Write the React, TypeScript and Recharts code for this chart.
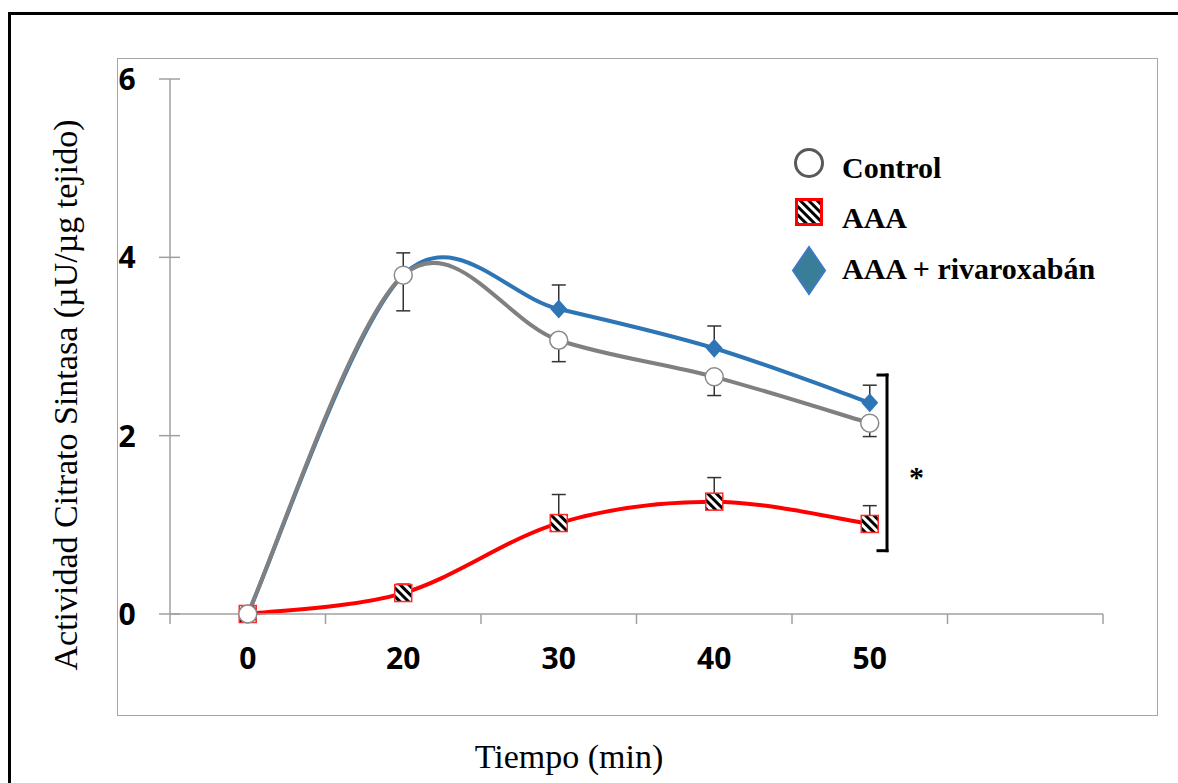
import React from 'react';
import {
  LineChart,
  Line,
  XAxis,
  YAxis,
  ErrorBar,
  Legend,
  ReferenceLine,
  ReferenceDot,
} from 'recharts';

// ---------- data ----------
const categories = ['0', '20', '30', '40', '50', ''];
const controlValues = [0, 3.8, 3.07, 2.66, 2.14, null];
const controlErrLow = [null, 0.4, 0.24, 0.21, 0.15, null];
const aaaValues = [0, 0.235, 1.02, 1.26, 1.01, null];
const aaaErrHigh = [null, 0.1, 0.32, 0.27, 0.205, null];
const rivaValues = [0, 3.8, 3.42, 2.98, 2.37, null];
const rivaErrHigh = [null, 0.25, 0.27, 0.25, 0.196, null];
const yTicks = [0, 2, 4, 6];
const seriesNames = ['Control', 'AAA', 'AAA + rivaroxabán'];
// significance bracket (x in category-slot units, 0..6 across the axis)
const bracketYRange = [0.71, 2.68];
const bracketXRange = [4.553, 4.611];
const starX = 4.8;
const starY = 1.59;

const data = categories.map((t, i) => ({
  t,
  slot: i,
  control: controlValues[i],
  controlErr: controlErrLow[i] == null ? null : [controlErrLow[i], 0],
  aaa: aaaValues[i],
  aaaErr: aaaErrHigh[i] == null ? null : [0, aaaErrHigh[i]],
  riva: rivaValues[i],
  rivaErr: rivaErrHigh[i] == null ? null : [0, rivaErrHigh[i]],
}));

// ---------- styles ----------
const AXIS = '#a0a0a0';
const GRAY = '#808080';
const RED = '#ff0000';
const BLUE = '#2e75b6';
const SANS = '"Open Sans", "Liberation Sans", sans-serif';
const SERIF = '"Liberation Serif", "Times New Roman", serif';

// Excel-like smoothed line (Catmull-Rom style bezier)
const excelSmooth: any = (ctx: any) => {
  let pts: number[][] = [];
  return {
    areaStart() {},
    areaEnd() {},
    lineStart() {
      pts = [];
    },
    point(x: number, y: number) {
      pts.push([+x, +y]);
    },
    lineEnd() {
      if (!pts.length) return;
      ctx.moveTo(pts[0][0], pts[0][1]);
      for (let i = 0; i < pts.length - 1; i++) {
        const p0 = pts[Math.max(i - 1, 0)];
        const p1 = pts[i];
        const p2 = pts[i + 1];
        const p3 = pts[Math.min(i + 2, pts.length - 1)];
        ctx.bezierCurveTo(
          p1[0] + (p2[0] - p0[0]) / 6,
          p1[1] + (p2[1] - p0[1]) / 6,
          p2[0] - (p3[0] - p1[0]) / 6,
          p2[1] - (p3[1] - p1[1]) / 6,
          p2[0],
          p2[1]
        );
      }
    },
  };
};

const ControlDot = (p: any) => {
  if (p.cx == null || p.cy == null || p.value == null) return <g key={p.key} />;
  return <circle key={p.key} cx={p.cx} cy={p.cy} r={9} fill="#fff" stroke="#8a8a8a" strokeWidth={1.5} />;
};
const AaaDot = (p: any) => {
  if (p.cx == null || p.cy == null || p.value == null) return <g key={p.key} />;
  return (
    <rect
      key={p.key}
      x={p.cx - 8.5}
      y={p.cy - 8.5}
      width={17}
      height={17}
      fill="url(#hatch)"
      stroke="#ff2a2a"
      strokeWidth={1.5}
    />
  );
};
const RivaDot = (p: any) => {
  if (p.cx == null || p.cy == null || p.value == null) return <g key={p.key} />;
  const { cx, cy } = p;
  return (
    <polygon
      key={p.key}
      points={`${cx},${cy - 9.5} ${cx + 8.5},${cy} ${cx},${cy + 9.5} ${cx - 8.5},${cy}`}
      fill={BLUE}
    />
  );
};

const XTick = (props: any) => {
  const { x, y, payload, index, visibleTicksCount } = props;
  const half = payload && payload.offset ? payload.offset : 77.75;
  return (
    <g>
      <line x1={x - half} y1={y} x2={x - half} y2={y + 10} stroke={AXIS} strokeWidth={1.5} />
      {index === visibleTicksCount - 1 && (
        <line x1={x + half} y1={y} x2={x + half} y2={y + 10} stroke={AXIS} strokeWidth={1.5} />
      )}
      <text x={x} y={y + 55} textAnchor="middle" fontFamily={SANS} fontWeight={700} fontSize={30} fill="#000">
        {payload.value}
      </text>
    </g>
  );
};

const YTick = (props: any) => {
  const { x, y, payload } = props;
  return (
    <g>
      <line x1={x - 11} y1={y} x2={x + 10} y2={y} stroke={AXIS} strokeWidth={1.5} />
      <text x={x - 43} y={y + 11} textAnchor="middle" fontFamily={SANS} fontWeight={700} fontSize={30} fill="#000">
        {payload.value}
      </text>
    </g>
  );
};

const LegendContent = () => (
  <svg width={330} height={170} style={{ overflow: 'visible' }}>
    <circle cx={29} cy={23} r={13.5} fill="#fff" stroke="#595959" strokeWidth={3} />
    <rect x={16.5} y={59.5} width={25} height={25} fill="url(#hatchL)" stroke={RED} strokeWidth={3} />
    <polygon points="29,107 45,130.5 29,154 13,130.5" fill="#3a7d99" stroke="#3b7ac4" strokeWidth={2} />
    {seriesNames.map((name, i) => (
      <text
        key={name}
        x={62}
        y={[38, 88, 139][i]}
        fontFamily={SERIF}
        fontWeight={700}
        fontSize={30}
        fill="#000"
      >
        {name}
      </text>
    ))}
  </svg>
);

const StarLabel = (props: any) => {
  const vb = props.viewBox || {};
  const cx = (vb.x ?? 0) + (vb.width ?? 0) / 2;
  const cy = (vb.y ?? 0) + (vb.height ?? 0) / 2;
  return (
    <text x={cx} y={cy + 15} textAnchor="middle" fontFamily={SERIF} fontWeight={700} fontSize={30} fill="#000">
      *
    </text>
  );
};

export default function App() {
  return (
    <div
      style={{
        position: 'absolute',
        left: 0,
        top: 0,
        width: 1178,
        height: 783,
        overflow: 'hidden',
        background: '#fff',
      }}
    >
      <svg width={0} height={0} style={{ position: 'absolute' }}>
        <defs>
          <pattern id="hatch" patternUnits="userSpaceOnUse" width={6} height={6} patternTransform="rotate(-45)">
            <rect x={0} y={0} width={6} height={6} fill="#fff" />
            <rect x={0} y={0} width={3} height={6} fill="#000" />
          </pattern>
          <pattern id="hatchL" patternUnits="userSpaceOnUse" width={6} height={6} patternTransform="rotate(-45)">
            <rect x={0} y={0} width={6} height={6} fill="#fff" />
            <rect x={0} y={0} width={3} height={6} fill="#000" />
          </pattern>
        </defs>
      </svg>
      {/* outer black frame */}
      <div
        style={{
          position: 'absolute',
          left: 8,
          top: 12,
          width: 1200,
          height: 800,
          border: '3px solid #000',
          boxSizing: 'border-box',
        }}
      />
      {/* chart area frame */}
      <div
        style={{
          position: 'absolute',
          left: 117,
          top: 58,
          width: 1041,
          height: 658,
          border: '1.5px solid #a6a6a6',
          boxSizing: 'border-box',
        }}
      />
      <div style={{ position: 'absolute', left: 0, top: 0 }}>
        <LineChart
          width={1178}
          height={783}
          data={data}
          margin={{ top: 79, right: 75, bottom: 129, left: 110 }}
        >
          <XAxis
            dataKey="t"
            type="category"
            scale="band"
            interval={0}
            height={40}
            tickLine={false}
            tickSize={0}
            tickMargin={0}
            axisLine={{ stroke: AXIS, strokeWidth: 1.5 }}
            tick={<XTick />}
          />
          <XAxis
            xAxisId="num"
            dataKey="slot"
            type="number"
            domain={[0, 6]}
            allowDataOverflow
            hide
          />
          <YAxis
            type="number"
            domain={[0, 6]}
            ticks={yTicks}
            width={60}
            tickLine={false}
            tickSize={0}
            tickMargin={0}
            axisLine={{ stroke: AXIS, strokeWidth: 1.5 }}
            tick={<YTick />}
          />
          <Legend
            layout="vertical"
            align="center"
            verticalAlign="middle"
            wrapperStyle={{ left: 780, top: 140, width: 330, height: 170 }}
            content={<LegendContent />}
          />
          <Line
            dataKey="riva"
            name={seriesNames[2]}
            type={excelSmooth}
            stroke={BLUE}
            strokeWidth={4}
            dot={RivaDot}
            activeDot={false}
            isAnimationActive={false}
          >
            <ErrorBar dataKey="rivaErr" direction="y" width={7} stroke="#333" strokeWidth={1.5} />
          </Line>
          <Line
            dataKey="aaa"
            name={seriesNames[1]}
            type={excelSmooth}
            stroke={RED}
            strokeWidth={4}
            dot={AaaDot}
            activeDot={false}
            isAnimationActive={false}
          >
            <ErrorBar dataKey="aaaErr" direction="y" width={7} stroke="#333" strokeWidth={1.5} />
          </Line>
          <Line
            dataKey="control"
            name={seriesNames[0]}
            type={excelSmooth}
            stroke={GRAY}
            strokeWidth={4}
            dot={ControlDot}
            activeDot={false}
            isAnimationActive={false}
          >
            <ErrorBar dataKey="controlErr" direction="y" width={7} stroke="#333" strokeWidth={1.5} />
          </Line>
          <ReferenceLine
            xAxisId="num"
            segment={[
              { x: bracketXRange[1], y: bracketYRange[0] },
              { x: bracketXRange[1], y: bracketYRange[1] },
            ]}
            stroke="#000"
            strokeWidth={3}
            strokeLinecap="square"
          />
          <ReferenceLine
            xAxisId="num"
            segment={[
              { x: bracketXRange[0], y: bracketYRange[1] },
              { x: bracketXRange[1], y: bracketYRange[1] },
            ]}
            stroke="#000"
            strokeWidth={3}
            strokeLinecap="square"
          />
          <ReferenceLine
            xAxisId="num"
            segment={[
              { x: bracketXRange[0], y: bracketYRange[0] },
              { x: bracketXRange[1], y: bracketYRange[0] },
            ]}
            stroke="#000"
            strokeWidth={3}
            strokeLinecap="square"
          />
          <ReferenceDot
            xAxisId="num"
            x={starX}
            y={starY}
            r={0}
            fill="none"
            stroke="none"
            label={<StarLabel />}
          />
        </LineChart>
      </div>
      <svg
        width={1178}
        height={783}
        style={{ position: 'absolute', left: 0, top: 0, pointerEvents: 'none' }}
      >
        <text
          transform="translate(77,395) rotate(-90)"
          textAnchor="middle"
          fontFamily={SERIF}
          fontSize={34}
          fill="#000"
        >
          Actividad Citrato Sintasa (µU/µg tejido)
        </text>
        <text x={569} y={768} textAnchor="middle" fontFamily={SERIF} fontSize={34} fill="#000">
          Tiempo (min)
        </text>
      </svg>
    </div>
  );
}
